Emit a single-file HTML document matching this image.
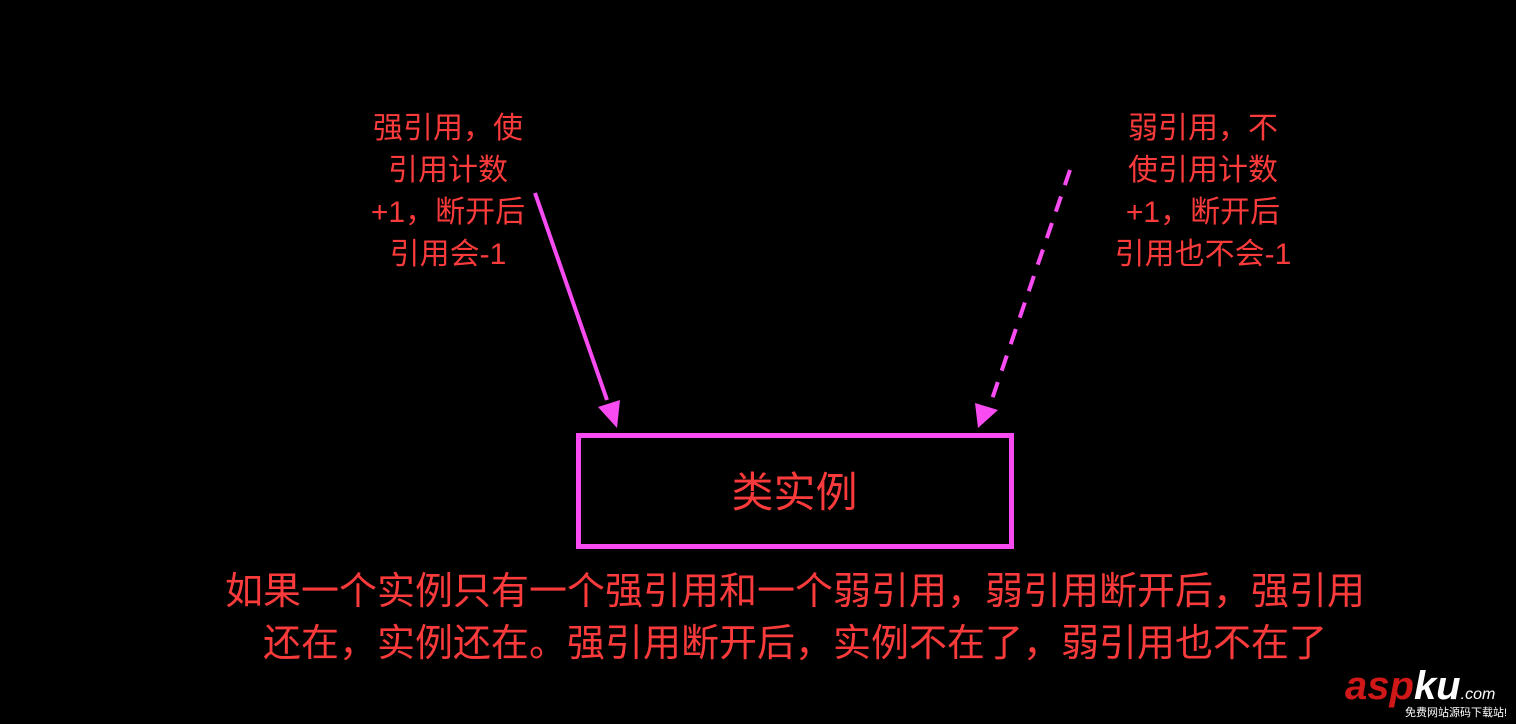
<!DOCTYPE html>
<html><head><meta charset="utf-8"><style>
body{margin:0;width:1516px;height:724px;background:#000;overflow:hidden;position:relative;font-family:"Liberation Sans","Noto Sans CJK SC",sans-serif;color:#fb3b3b}
.t{position:absolute;text-align:center;white-space:nowrap}
.l{font-size:30px;line-height:42px}
</style></head><body>
<svg width="1516" height="724" style="position:absolute;left:0;top:0">
<rect x="578.5" y="435.5" width="433" height="111" fill="none" stroke="#f84cf2" stroke-width="5"/>
<line x1="535" y1="193" x2="607" y2="400" stroke="#f84cf2" stroke-width="4"/>
<polygon points="617,428 598,407 620,400" fill="#f84cf2"/>
<line x1="1070" y1="170" x2="990" y2="405" stroke="#f84cf2" stroke-width="4" stroke-dasharray="16,12"/>
<polygon points="978,428 975,403 998,410" fill="#f84cf2"/>
</svg>
<div class="t l" style="left:348px;top:108px;width:200px">强引用，使<br>引用计数<br>+1，断开后<br>引用会-1</div>
<div class="t l" style="left:1103px;top:108px;width:200px">弱引用，不<br>使引用计数<br>+1，断开后<br>引用也不会-1</div>
<div class="t" style="left:578px;top:468px;width:433px;font-size:42px;line-height:50px">类实例</div>
<div class="t" style="left:195px;top:566px;width:1200px;font-size:38px;line-height:52px">如果一个实例只有一个强引用和一个弱引用，弱引用断开后，强引用<br>还在，实例还在。强引用断开后，实例不在了，弱引用也不在了</div>
<div class="t" style="left:1345px;top:664px;font-size:40px;font-weight:bold;font-style:italic;color:#d01818;line-height:44px">asp<span style="color:#fff">ku</span><span style="font-size:16px;font-weight:normal;color:#fff">.com</span></div>
<div class="t" style="left:1405px;top:704px;font-size:11px;color:#fff">免费网站源码下载站!</div>
</body></html>
